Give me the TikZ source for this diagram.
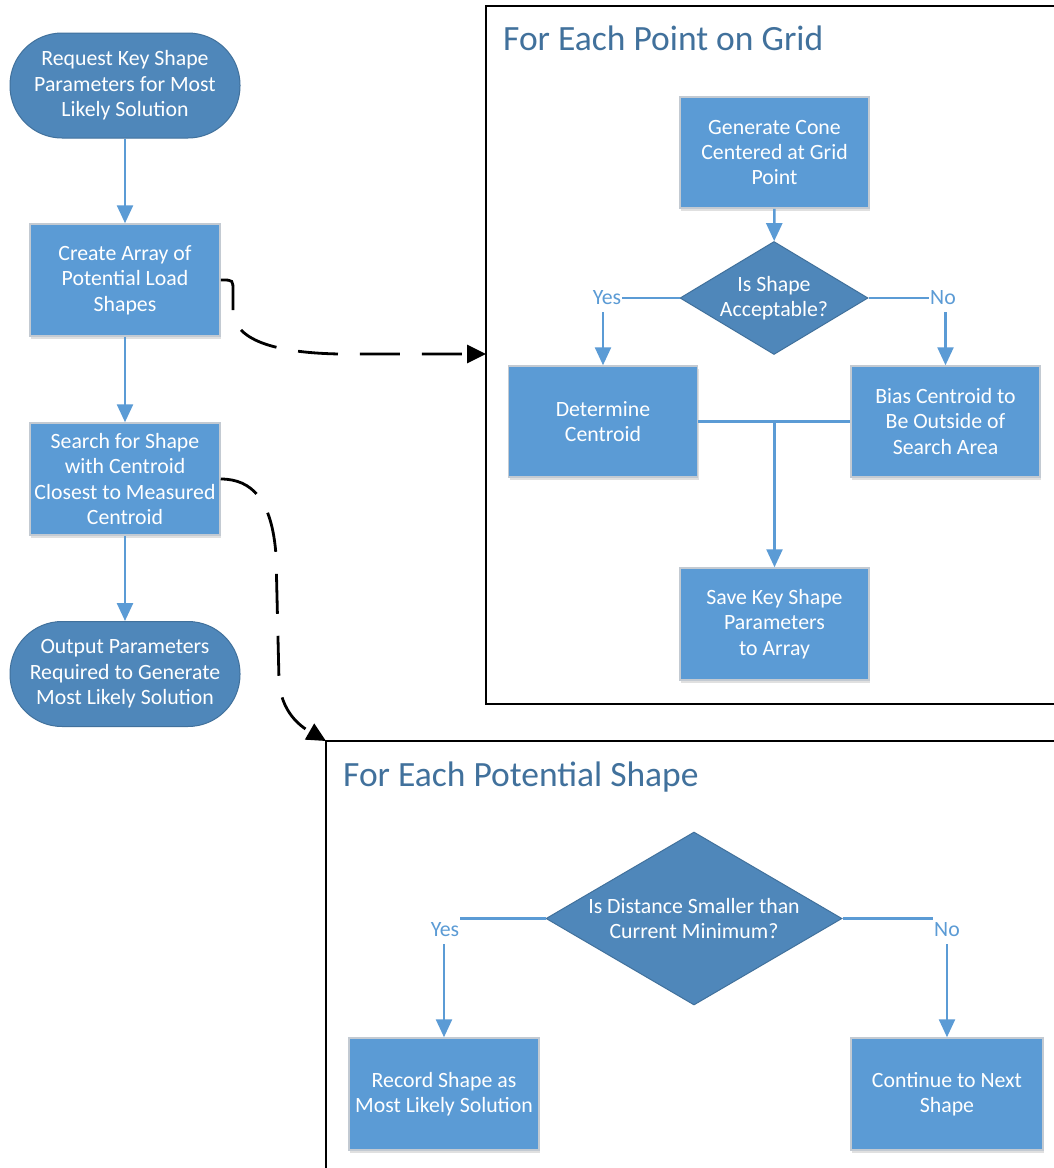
\documentclass[tikz,border=0pt]{standalone}
\usepackage{fontspec}
\setmainfont{Carlito}
\usetikzlibrary{arrows.meta,shapes.geometric,shadows}
\definecolor{boxfill}{HTML}{5B9BD5}
\definecolor{boxline}{HTML}{C3CAD2}
\definecolor{darkfill}{HTML}{4F87BA}
\definecolor{darkline}{HTML}{41719C}
\definecolor{conn}{HTML}{5B9BD5}
\definecolor{titlec}{HTML}{41719C}
\begin{document}
\begin{tikzpicture}[x=1pt,y=-1pt,
 basefont/.style={font=\fontsize{21.8pt}{25.5pt}\selectfont},
 procbox/.style={basefont, rectangle, fill=boxfill, draw=boxline, line width=1.5pt, text=white, align=center, inner sep=0pt,
   drop shadow={shadow xshift=1pt, shadow yshift=-3pt, fill=black, opacity=0.12}},
 termbox/.style={basefont, rectangle, rounded corners=52pt, fill=darkfill, draw=darkline, line width=1pt, text=white, align=center, minimum width=230pt, minimum height=105pt, inner sep=0pt},
 decbox/.style={diamond, fill=darkfill, draw=darkline, line width=1pt, inner sep=0pt},
 dectext/.style={basefont, text=white, align=center, inner sep=0pt},
 flow/.style={draw=conn, line width=2.5pt, -{Triangle[length=18pt,width=16pt]}},
 flowline/.style={draw=conn, line width=2.5pt},
 branchlabel/.style={basefont, text=conn, fill=white, inner xsep=1pt, inner ysep=0pt, minimum height=28pt},
 dashconn/.style={draw=black, line width=2.8pt, dash pattern=on 40pt off 22pt, -{Triangle[length=19pt,width=18pt]}},
 frameline/.style={draw=black, line width=1.5pt},
 framelabel/.style={font=\fontsize{35.5pt}{40pt}\selectfont, text=titlec, anchor=base west, inner sep=0pt}
]
\useasboundingbox (0,0) rectangle (1053,1168);
\fill[white] (0,0) rectangle (1053,1168);

% frames
\coordinate (f1nw) at (486,6);
\coordinate (f1sw) at (486,704);
\coordinate (f2nw) at (326,741);
\draw[frameline] (1060,6) -- (f1nw) -- (f1sw) -- (1060,704);
\draw[frameline] (1060,741) -- (f2nw) -- (326,1175);
\node[framelabel] (t1) at (503,50) {For Each Point on Grid};
\node[framelabel] (t2) at (343,786) {For Each Potential Shape};

% left column
\node[termbox] (req) at (125,85.5) {Request Key Shape\\Parameters for Most\\Likely Solution};
\node[procbox, minimum width=190pt, minimum height=112pt] (cre) at (125,280) {Create Array of\\Potential Load\\Shapes};
\node[procbox, minimum width=190pt, minimum height=112pt] (srch) at (125,479) {Search for Shape\\with Centroid\\Closest to Measured\\Centroid};
\node[termbox] (out) at (125,674) {Output Parameters\\Required to Generate\\Most Likely Solution};

% grid section
\node[procbox, minimum width=189pt, minimum height=111pt] (gen) at (774.5,152.5) {Generate Cone\\Centered at Grid\\Point};
\node[decbox, minimum width=188pt, minimum height=113pt] (acc) at (774,298) {};
\node[dectext] (acct) at (acc.center) {Is Shape\\Acceptable?};
\node[procbox, minimum width=189pt, minimum height=111pt] (det) at (603,421.5) {Determine\\Centroid};
\node[procbox, minimum width=189pt, minimum height=111pt] (bias) at (945.5,421.5) {Bias Centroid to\\Be Outside of\\Search Area};
\node[procbox, minimum width=189pt, minimum height=112pt] (save) at (774.5,624) {Save Key Shape\\Parameters\\to Array};

% potential shape section
\node[decbox, minimum width=296pt, minimum height=173pt] (dist) at (694,918.5) {};
\node[dectext] (distt) at (dist.center) {Is Distance Smaller than\\Current Minimum?};
\node[procbox, minimum width=190pt, minimum height=112pt] (rec) at (444,1094) {Record Shape as\\Most Likely Solution};
\node[procbox, minimum width=192pt, minimum height=112pt] (cont) at (947,1094) {Continue to Next\\Shape};

% connectors
\draw[flow] (req) -- (cre);
\draw[flow] (cre) -- (srch);
\draw[flow] (srch) -- (out);
\draw[flow] (gen) -- (acc);
\draw[flow] (acc.west) -| (det.north);
\draw[flow] (acc.east) -| (bias.north);
\draw[flowline] (det.east) -- (bias.west);
\coordinate (jn) at (save.north |- det.east);
\draw[flow] (jn) -- (save.north);
\draw[flow] (dist.west) -| (rec.north);
\draw[flow] (dist.east) -| (cont.north);

\node[branchlabel] (yes1) at (607,298) {Yes};
\node[branchlabel] (no1) at (943,298) {No};
\node[branchlabel] (yes2) at (445,930) {Yes};
\node[branchlabel] (no2) at (947,930) {No};

% dashed connectors
\draw[dashconn] (cre.east) -- (222,280) .. controls (233,280) .. (233,291) -- (233,313)
  .. controls (236,342) and (280,353) .. (340,354) -- (486,354);
\draw[dashconn] (srch.east) .. controls (252,479) and (272,500) .. (276,555) -- (279,680)
  .. controls (281,712) and (300,726) .. (f2nw);
\end{tikzpicture}
\end{document}
